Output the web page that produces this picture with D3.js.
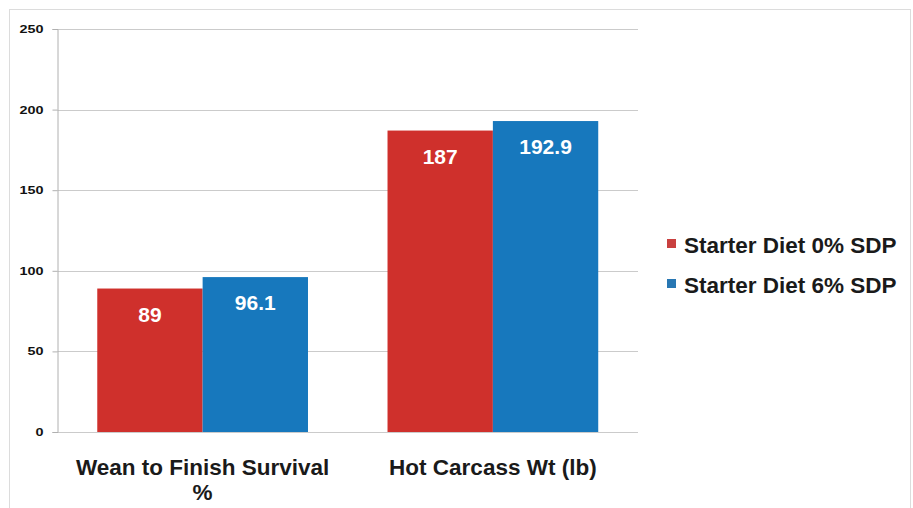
<!DOCTYPE html>
<html>
<head>
<meta charset="utf-8">
<script src="https://cdn.jsdelivr.net/npm/d3@7"></script>
<style>
  html, body { margin: 0; padding: 0; background: #ffffff; }
  svg { display: block; font-family: "Liberation Sans", Arial, Helvetica, sans-serif; }
</style>
</head>
<body>
<svg id="chart" width="913" height="508"></svg>
<script>
const categories = ["Wean to Finish Survival %", "Hot Carcass Wt (lb)"];
const categoryLines = [["Wean to Finish Survival", "%"], ["Hot Carcass Wt (lb)"]];
const seriesNames = ["Starter Diet 0% SDP", "Starter Diet 6% SDP"];
const series0 = [89, 187];
const series1 = [96.1, 192.9];
const valueLabels0 = ["89", "187"];
const valueLabels1 = ["96.1", "192.9"];
const yTicks = [0, 50, 100, 150, 200, 250];
const colors = ["#cf302c", "#1778bd"];
const legendColors = ["#c9403f", "#2877b3"];

const svg = d3.select("#chart");

// outer border
svg.append("rect")
  .attr("x", 9.5).attr("y", 9.5)
  .attr("width", 901).attr("height", 520)
  .attr("fill", "none").attr("stroke", "#dcdcdc").attr("stroke-width", 1);

const plot = { left: 57.5, right: 638, top: 29, bottom: 432 };

const x0 = d3.scaleBand().domain(categories)
  .range([plot.left, plot.right]).paddingInner(0.274).paddingOuter(0.137);
const x1 = d3.scaleBand().domain([0, 1]).range([0, x0.bandwidth()]).padding(0);
const y = d3.scaleLinear().domain([0, 250]).range([plot.bottom, plot.top]);

// gridlines
svg.append("g").selectAll("line").data(yTicks).join("line")
  .attr("x1", plot.left).attr("x2", plot.right)
  .attr("y1", d => Math.round(y(d)) + 0.5).attr("y2", d => Math.round(y(d)) + 0.5)
  .attr("stroke", "#cbcbcb").attr("stroke-width", 1);

// y axis
const yAxis = d3.axisLeft(y).tickValues(yTicks).tickSize(5).tickPadding(9);
const gy = svg.append("g").attr("transform", `translate(${plot.left},0)`).call(yAxis);
gy.select(".domain").attr("stroke", "#b0b0b0");
gy.selectAll(".tick line").attr("stroke", "#b0b0b0");
gy.selectAll(".tick text")
  .attr("font-size", 11).attr("font-weight", "bold").attr("fill", "#111")
  .attr("font-family", "'Liberation Sans', Arial, sans-serif")
  .attr("textLength", d => String(d).length * 8)
  .attr("lengthAdjust", "spacingAndGlyphs")
  .attr("x", -14);

const data = categories.map((c, i) => ({ cat: c, vals: [series0[i], series1[i]], labels: [valueLabels0[i], valueLabels1[i]] }));

const groups = svg.append("g").selectAll("g").data(data).join("g")
  .attr("transform", d => `translate(${x0(d.cat)},0)`);

groups.selectAll("rect").data(d => d.vals.map((v, j) => ({ v, j }))).join("rect")
  .attr("x", d => x1(d.j))
  .attr("width", x1.bandwidth())
  .attr("y", d => y(d.v))
  .attr("height", d => y(0) - y(d.v))
  .attr("fill", d => colors[d.j]);

groups.selectAll("text.val").data(d => d.vals.map((v, j) => ({ v, j, label: d.labels[j] }))).join("text")
  .attr("class", "val")
  .attr("x", d => x1(d.j) + x1.bandwidth() / 2)
  .attr("y", d => y(d.v) + 33)
  .attr("text-anchor", "middle")
  .attr("font-size", 21).attr("font-weight", "bold").attr("fill", "#ffffff")
  .text(d => d.label);

// category labels
const catG = svg.append("g");
categories.forEach((c, i) => {
  const cx = x0(c) + x0.bandwidth() / 2;
  const t = catG.append("text")
    .attr("x", cx).attr("y", 475)
    .attr("text-anchor", "middle")
    .attr("font-size", 22.5).attr("font-weight", "bold").attr("fill", "#1a1a1a");
  categoryLines[i].forEach((line, k) => {
    t.append("tspan").attr("x", cx).attr("dy", k === 0 ? 0 : 25).text(line);
  });
});

// legend
const legend = svg.append("g");
seriesNames.forEach((name, i) => {
  legend.append("rect")
    .attr("x", 667).attr("y", 239 + i * 40)
    .attr("width", 9).attr("height", 9)
    .attr("fill", legendColors[i]);
  legend.append("text")
    .attr("x", 684).attr("y", 253 + i * 40)
    .attr("font-size", 22.5).attr("font-weight", "bold").attr("fill", "#1a1a1a")
    .text(name);
});
</script>
</body>
</html>
